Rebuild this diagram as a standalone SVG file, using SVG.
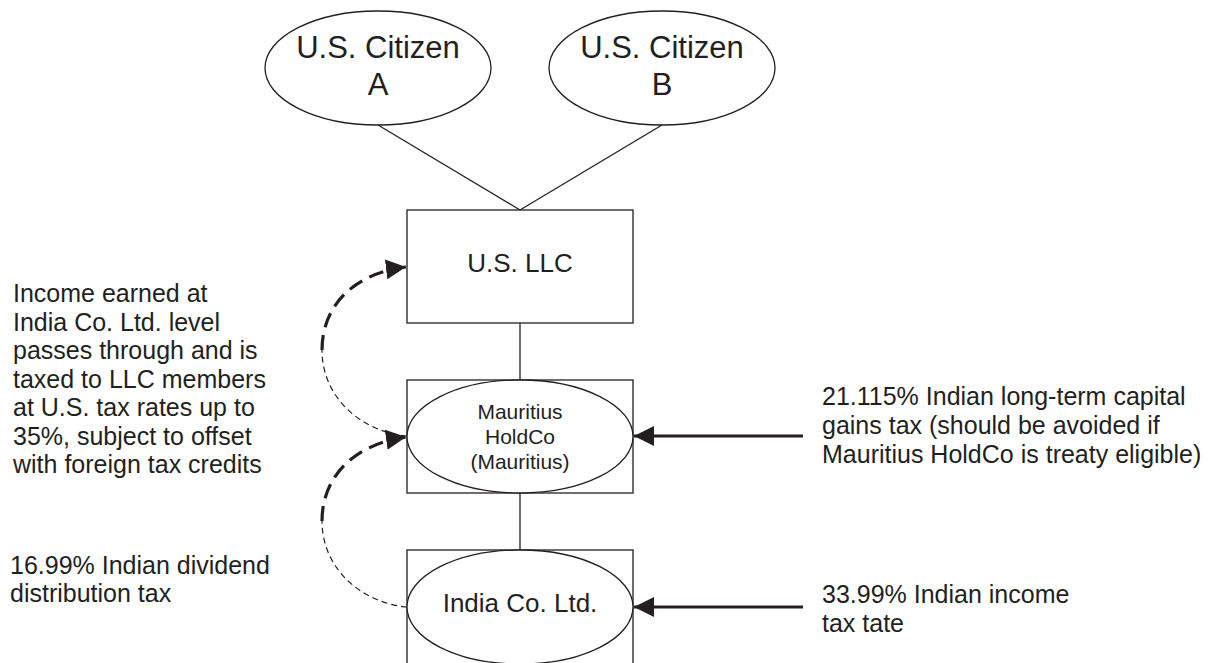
<svg xmlns="http://www.w3.org/2000/svg" width="1210" height="663" viewBox="0 0 1210 663">
<style>
.shape{fill:#fff;stroke:#231f20;stroke-width:1.3}
.ln{fill:none;stroke:#231f20;stroke-width:1.3}
.t{font-family:"Liberation Sans",Arial,sans-serif;fill:#231f20}
.c{text-anchor:middle}
.note{font-size:25px}
.thick{fill:none;stroke:#231f20;stroke-width:3.2;stroke-dasharray:15 8}
.thin{fill:none;stroke:#231f20;stroke-width:1.2;stroke-dasharray:6 4}
.solid{fill:none;stroke:#231f20;stroke-width:2.8}
</style>
<defs>
<marker id="ah" markerUnits="userSpaceOnUse" markerWidth="22" markerHeight="22" refX="20" refY="10" orient="auto" viewBox="0 0 22 20">
<path d="M0,0 L20,10 L0,20 Z" fill="#231f20"/>
</marker>
</defs>
<g id="connectors">
<line class="ln" x1="378" y1="125" x2="520" y2="210"/>
<line class="ln" x1="662" y1="125" x2="520" y2="210"/>
<line class="ln" x1="520" y1="323" x2="520" y2="380"/>
<line class="ln" x1="520" y1="493" x2="520" y2="550"/>
<line class="solid" x1="803" y1="436" x2="634" y2="436" marker-end="url(#ah)"/>
<line class="solid" x1="803" y1="607" x2="634" y2="607" marker-end="url(#ah)"/>
<path class="thin" d="M407,436 C362,432 322,398 322,350"/>
<path class="thick" d="M322,350 C322,305 355,273 406,267" marker-end="url(#ah)"/>
<path class="thin" d="M407,607 C362,603 322,569 322,521"/>
<path class="thick" d="M322,521 C322,476 355,444 406,437" marker-end="url(#ah)"/>
</g>
<g id="citizenA">
<ellipse class="shape" cx="378" cy="68" rx="113" ry="57"/>
<text class="t c" x="378" y="58" font-size="31">U.S. Citizen</text>
<text class="t c" x="378" y="95" font-size="31">A</text>
</g>
<g id="citizenB">
<ellipse class="shape" cx="662" cy="68" rx="113" ry="57"/>
<text class="t c" x="662" y="58" font-size="31">U.S. Citizen</text>
<text class="t c" x="662" y="95" font-size="31">B</text>
</g>
<g id="llc">
<rect class="shape" x="407" y="210" width="226" height="113"/>
<text class="t c" x="520" y="272" font-size="26">U.S. LLC</text>
</g>
<g id="mauritius">
<rect class="shape" x="407" y="380" width="226" height="113"/>
<ellipse class="shape" cx="520" cy="436.5" rx="113" ry="56.5"/>
<text class="t c" x="520" y="419" font-size="21">Mauritius</text>
<text class="t c" x="520" y="444" font-size="21">HoldCo</text>
<text class="t c" x="520" y="469" font-size="21">(Mauritius)</text>
</g>
<g id="india">
<rect class="shape" x="407" y="550" width="226" height="130"/>
<ellipse class="shape" cx="520" cy="607" rx="113" ry="57"/>
<text class="t c" x="520" y="612" font-size="26">India Co. Ltd.</text>
</g>
<g id="note-left">
<text class="t note">
<tspan x="13" y="302">Income earned at</tspan>
<tspan x="13" y="330.5">India Co. Ltd. level</tspan>
<tspan x="13" y="359">passes through and is</tspan>
<tspan x="13" y="387.5">taxed to LLC members</tspan>
<tspan x="13" y="416">at U.S. tax rates up to</tspan>
<tspan x="13" y="444.5">35%, subject to offset</tspan>
<tspan x="13" y="473">with foreign tax credits</tspan>
</text>
</g>
<g id="note-dividend">
<text class="t note">
<tspan x="10" y="574">16.99% Indian dividend</tspan>
<tspan x="10" y="602">distribution tax</tspan>
</text>
</g>
<g id="note-capital">
<text class="t note">
<tspan x="822" y="405">21.115% Indian long-term capital</tspan>
<tspan x="822" y="434">gains tax (should be avoided if</tspan>
<tspan x="822" y="463">Mauritius HoldCo is treaty eligible)</tspan>
</text>
</g>
<g id="note-income">
<text class="t note">
<tspan x="822" y="603">33.99% Indian income</tspan>
<tspan x="822" y="632">tax tate</tspan>
</text>
</g>
</svg>
